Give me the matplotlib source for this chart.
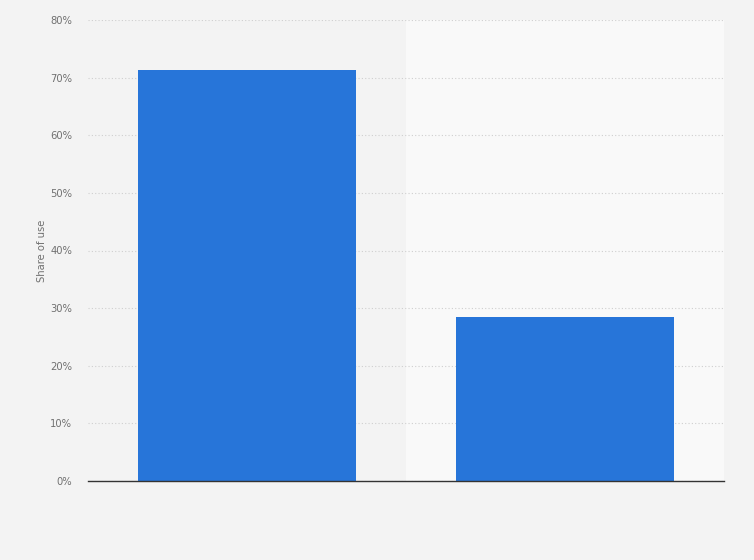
import matplotlib
matplotlib.use("Agg")
import matplotlib.pyplot as plt
from matplotlib.ticker import FuncFormatter

categories = ["Category A", "Category B"]
values = [71.4, 28.5]
yticks = [0, 10, 20, 30, 40, 50, 60, 70, 80]

fig = plt.figure(figsize=(7.54, 5.6), dpi=100)
fig.patch.set_facecolor("#f3f3f3")
ax = fig.add_axes([88/754, 1-481/560, (724-88)/754, (481-20)/560])
ax.set_facecolor("#f3f3f3")

x = list(range(len(categories)))
ax.set_xlim(-0.5, len(categories) - 0.5)
ax.set_ylim(0, 80)
# alternating band backgrounds
for i in x:
    if i % 2 == 1:
        ax.axvspan(i - 0.5, i + 0.5, color="#f9f9f9", zorder=0, lw=0)

ax.set_yticks(yticks)
ax.yaxis.set_major_formatter(FuncFormatter(lambda v, p: f"{int(v)}%"))
ax.grid(axis="y", color="#cfcfcf", linestyle=(0, (1, 2)), linewidth=0.8, zorder=1)
ax.set_axisbelow(True)

ax.bar(x, values, width=0.686, color="#2775d9", zorder=3)

for s in ["top", "right", "left"]:
    ax.spines[s].set_visible(False)
ax.spines["bottom"].set_color("#333333")
ax.spines["bottom"].set_linewidth(1.0)
ax.spines["bottom"].set_zorder(4)

ax.set_xticks(x)
ax.set_xticklabels([])
ax.tick_params(axis="x", length=0)
ax.tick_params(axis="y", length=0, labelsize=7.2, labelcolor="#707070", pad=11.5)

ax.set_ylabel("Share of use", fontsize=7.2, color="#707070", labelpad=2.5)

fig.savefig("out.png", dpi=100, facecolor=fig.get_facecolor())
